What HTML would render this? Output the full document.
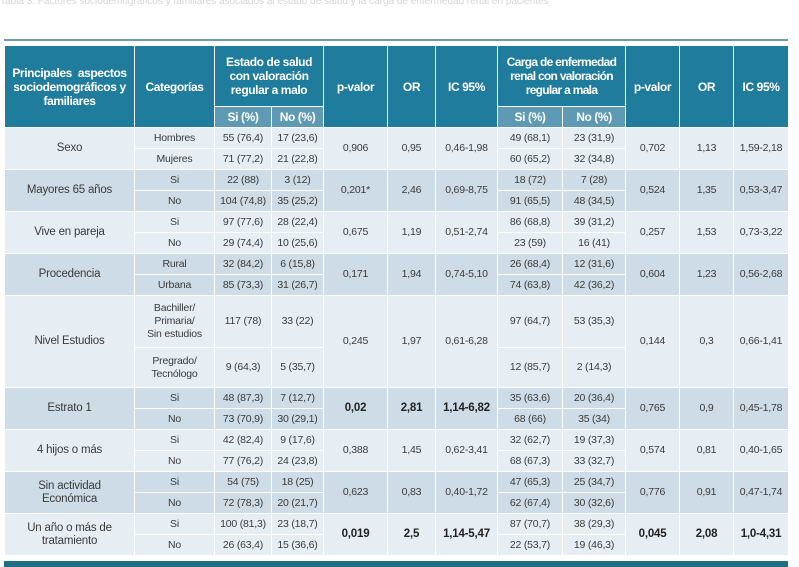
<!DOCTYPE html>
<html><head><meta charset="utf-8"><style>
body{margin:0;width:799px;height:567px;background:#fff;position:relative;overflow:hidden;font-family:"Liberation Sans",sans-serif}
.topline{position:absolute;left:4px;top:39px;width:784px;height:2px;background:#6f9aa8}
.faint{position:absolute;left:0;top:-2px;width:799px;height:10px;color:#d4d4d4;font-size:10px;white-space:nowrap;overflow:hidden;line-height:8px}
table{position:absolute;left:4px;top:45px;border-collapse:collapse;table-layout:fixed;width:784px}
td,th{border:1px solid #fff;text-align:center;vertical-align:middle;padding:0;font-size:10.5px;color:#3a3a3a;line-height:13px;letter-spacing:-0.2px}
th{background:#1f7c9c;color:#fff;font-size:12px;font-weight:bold;line-height:14px;letter-spacing:-0.4px}
th.sub{background:#5f9ab4;height:20px}
tr.r td{height:20px}
.a td{background:#e6eef4}
.b td{background:#cddce7}
td.g{font-size:11.5px}
.bold{font-weight:bold;font-size:11.5px;color:#222}
.bottom{position:absolute;left:4px;top:561px;width:784px;height:6px;background:#1f6f84}
</style></head><body>
<div class="faint">Tabla 3. Factores sociodemográficos y familiares asociados al estado de salud y la carga de enfermedad renal en pacientes</div>
<div class="topline"></div>
<table>
<colgroup><col style="width:130px"><col style="width:80px"><col style="width:57px"><col style="width:52px"><col style="width:64px"><col style="width:48px"><col style="width:62px"><col style="width:65px"><col style="width:63px"><col style="width:54px"><col style="width:54px"><col style="width:55px"></colgroup>
<tr style="height:61px">
<th rowspan="2">Principales&nbsp; aspectos sociodemográficos y familiares</th>
<th rowspan="2">Categorías</th>
<th colspan="2">Estado de salud<br>con valoración<br>regular a malo</th>
<th rowspan="2">p-valor</th>
<th rowspan="2">OR</th>
<th rowspan="2">IC 95%</th>
<th colspan="2" style="letter-spacing:-0.7px">Carga de enfermedad<br>renal con valoración<br>regular a mala</th>
<th rowspan="2">p-valor</th>
<th rowspan="2">OR</th>
<th rowspan="2">IC 95%</th>
</tr>
<tr>
<th class="sub">Si (%)</th><th class="sub">No (%)</th>
<th class="sub">Si (%)</th><th class="sub">No (%)</th>
</tr>
<tr class="r a"><td rowspan="2" class="g">Sexo</td><td>Hombres</td><td>55 (76,4)</td><td>17 (23,6)</td><td rowspan="2">0,906</td><td rowspan="2">0,95</td><td rowspan="2">0,46-1,98</td><td>49 (68,1)</td><td>23 (31,9)</td><td rowspan="2">0,702</td><td rowspan="2">1,13</td><td rowspan="2">1,59-2,18</td></tr>
<tr class="r a"><td>Mujeres</td><td>71 (77,2)</td><td>21 (22,8)</td><td>60 (65,2)</td><td>32 (34,8)</td></tr>
<tr class="r b"><td rowspan="2" class="g">Mayores 65 años</td><td>Si</td><td>22 (88)</td><td>3 (12)</td><td rowspan="2">0,201*</td><td rowspan="2">2,46</td><td rowspan="2">0,69-8,75</td><td>18 (72)</td><td>7 (28)</td><td rowspan="2">0,524</td><td rowspan="2">1,35</td><td rowspan="2">0,53-3,47</td></tr>
<tr class="r b"><td>No</td><td>104 (74,8)</td><td>35 (25,2)</td><td>91 (65,5)</td><td>48 (34,5)</td></tr>
<tr class="r a"><td rowspan="2" class="g">Vive en pareja</td><td>Si</td><td>97 (77,6)</td><td>28 (22,4)</td><td rowspan="2">0,675</td><td rowspan="2">1,19</td><td rowspan="2">0,51-2,74</td><td>86 (68,8)</td><td>39 (31,2)</td><td rowspan="2">0,257</td><td rowspan="2">1,53</td><td rowspan="2">0,73-3,22</td></tr>
<tr class="r a"><td>No</td><td>29 (74,4)</td><td>10 (25,6)</td><td>23 (59)</td><td>16 (41)</td></tr>
<tr class="r b"><td rowspan="2" class="g">Procedencia</td><td>Rural</td><td>32 (84,2)</td><td>6 (15,8)</td><td rowspan="2">0,171</td><td rowspan="2">1,94</td><td rowspan="2">0,74-5,10</td><td>26 (68,4)</td><td>12 (31,6)</td><td rowspan="2">0,604</td><td rowspan="2">1,23</td><td rowspan="2">0,56-2,68</td></tr>
<tr class="r b"><td>Urbana</td><td>85 (73,3)</td><td>31 (26,7)</td><td>74 (63,8)</td><td>42 (36,2)</td></tr>
<tr class="a" style="height:52px"><td rowspan="2" class="g">Nivel Estudios</td><td>Bachiller/<br>Primaria/<br>Sin estudios</td><td>117 (78)</td><td>33 (22)</td><td rowspan="2">0,245</td><td rowspan="2">1,97</td><td rowspan="2">0,61-6,28</td><td>97 (64,7)</td><td>53 (35,3)</td><td rowspan="2">0,144</td><td rowspan="2">0,3</td><td rowspan="2">0,66-1,41</td></tr>
<tr class="a" style="height:40px"><td>Pregrado/<br>Tecnólogo</td><td>9 (64,3)</td><td>5 (35,7)</td><td>12 (85,7)</td><td>2 (14,3)</td></tr>
<tr class="r b"><td rowspan="2" class="g">Estrato 1</td><td>Si</td><td>48 (87,3)</td><td>7 (12,7)</td><td rowspan="2" class="bold">0,02</td><td rowspan="2" class="bold">2,81</td><td rowspan="2" class="bold">1,14-6,82</td><td>35 (63,6)</td><td>20 (36,4)</td><td rowspan="2">0,765</td><td rowspan="2">0,9</td><td rowspan="2">0,45-1,78</td></tr>
<tr class="r b"><td>No</td><td>73 (70,9)</td><td>30 (29,1)</td><td>68 (66)</td><td>35 (34)</td></tr>
<tr class="r a"><td rowspan="2" class="g">4 hijos o más</td><td>Si</td><td>42 (82,4)</td><td>9 (17,6)</td><td rowspan="2">0,388</td><td rowspan="2">1,45</td><td rowspan="2">0,62-3,41</td><td>32 (62,7)</td><td>19 (37,3)</td><td rowspan="2">0,574</td><td rowspan="2">0,81</td><td rowspan="2">0,40-1,65</td></tr>
<tr class="r a"><td>No</td><td>77 (76,2)</td><td>24 (23,8)</td><td>68 (67,3)</td><td>33 (32,7)</td></tr>
<tr class="r b"><td rowspan="2" class="g">Sin actividad<br>Económica</td><td>Si</td><td>54 (75)</td><td>18 (25)</td><td rowspan="2">0,623</td><td rowspan="2">0,83</td><td rowspan="2">0,40-1,72</td><td>47 (65,3)</td><td>25 (34,7)</td><td rowspan="2">0,776</td><td rowspan="2">0,91</td><td rowspan="2">0,47-1,74</td></tr>
<tr class="r b"><td>No</td><td>72 (78,3)</td><td>20 (21,7)</td><td>62 (67,4)</td><td>30 (32,6)</td></tr>
<tr class="r a"><td rowspan="2" class="g">Un año o más de<br>tratamiento</td><td>Si</td><td>100 (81,3)</td><td>23 (18,7)</td><td rowspan="2" class="bold">0,019</td><td rowspan="2" class="bold">2,5</td><td rowspan="2" class="bold">1,14-5,47</td><td>87 (70,7)</td><td>38 (29,3)</td><td rowspan="2" class="bold">0,045</td><td rowspan="2" class="bold">2,08</td><td rowspan="2" class="bold">1,0-4,31</td></tr>
<tr class="r a"><td>No</td><td>26 (63,4)</td><td>15 (36,6)</td><td>22 (53,7)</td><td>19 (46,3)</td></tr>
</table>
<div class="bottom"></div>
</body></html>
